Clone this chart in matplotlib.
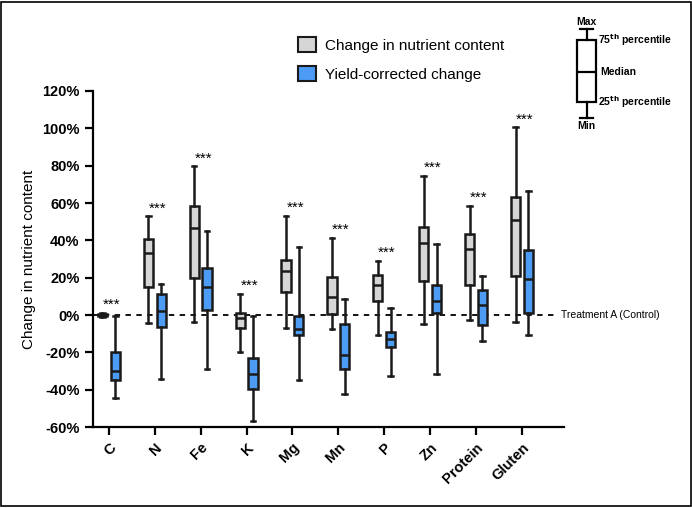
import numpy as np
import matplotlib.pyplot as plt
from matplotlib.patches import Patch, Rectangle

plt.rcParams['font.family'] = ['Liberation Sans', 'DejaVu Sans']

categorias = ['C', 'N', 'Fe', 'K', 'Mg', 'Mn', 'P', 'Zn', 'Protein', 'Gluten']

# [min, q1, mediana, q3, max] en %
cambio = [
    [-1, -0.3, 0.3, 0.8, 1.2],
    [-4.1, 15.0, 33.2, 40.5, 52.9],
    [-3.9, 19.8, 46.8, 58.4, 79.6],
    [-19.5, -7.1, -1.4, 0.9, 11.2],
    [-6.8, 12.5, 23.4, 29.5, 53.2],
    [-7.3, 0.4, 9.8, 20.5, 41.4],
    [-10.4, 7.7, 16.2, 21.6, 28.9],
    [-4.5, 18.4, 38.6, 47.3, 74.6],
    [-2.7, 15.9, 35.2, 43.5, 58.5],
    [-3.7, 21.2, 50.7, 63.2, 100.5],
]
corregido = [
    [-44.6, -34.8, -30.0, -20.0, -0.4],
    [-34.3, -6.2, 2.3, 11.4, 16.4],
    [-28.7, 2.5, 15.0, 25.2, 45.0],
    [-56.6, -39.5, -31.6, -22.7, -0.4],
    [-34.5, -10.9, -7.3, -0.2, 36.3],
    [-42.1, -28.7, -21.3, -4.5, 8.7],
    [-32.7, -17.1, -12.7, -8.9, 3.9],
    [-31.6, 0.9, 7.7, 16.2, 38.2],
    [-13.9, -5.5, 5.4, 13.2, 21.2],
    [-10.5, 1.4, 19.6, 35.0, 66.2],
]

GRIS = '#D6D6D6'
AZUL = '#4C9BF4'
NEGRO = '#1a1a1a'


def stats(datos):
    return [dict(whislo=d[0], q1=d[1], med=d[2], q3=d[3], whishi=d[4], fliers=[]) for d in datos]


def dibujar(ax, datos, pos, color, ancho):
    ax.bxp(stats(datos), positions=pos, widths=ancho, patch_artist=True,
           showfliers=False, manage_ticks=False,
           boxprops=dict(facecolor=color, edgecolor=NEGRO, linewidth=1.8),
           medianprops=dict(color=NEGRO, linewidth=1.8),
           whiskerprops=dict(color=NEGRO, linewidth=1.8),
           capprops=dict(color=NEGRO, linewidth=1.8),
           capwidths=ancho * 0.5)


fig = plt.figure(figsize=(6.92, 5.08), dpi=100)
ax = fig.add_axes([0.134, 0.159, 0.681, 0.662])

x = np.arange(len(categorias))
dibujar(ax, cambio, x - 0.14, GRIS, 0.2)
dibujar(ax, corregido, x + 0.14, AZUL, 0.2)

for i, d in enumerate(cambio):
    ax.text(x[i] + 0.06, d[4] + 0.5, '***', ha='center', va='bottom', fontsize=11)

ax.axhline(0, xmin=0, xmax=0.987, color='black', linestyle=(0, (3, 3)), linewidth=1.3,
           zorder=0)
ax.text(0.994, 0, 'Treatment A (Control)', transform=ax.get_yaxis_transform(),
        va='center', ha='left', fontsize=7.5)

ax.set_xlim(-0.35, 9.915)
ax.set_ylim(-60, 120)
ax.set_yticks(np.arange(-60, 121, 20))
ax.set_yticklabels([f'{v}%' for v in range(-60, 121, 20)], fontweight='bold', fontsize=10.5)
ax.set_xticks(x)
ax.set_xticklabels(categorias, rotation=45, ha='right', rotation_mode='anchor',
                   fontweight='bold', fontsize=10.5)
ax.set_ylabel('Change in nutrient content', fontsize=11)
ax.tick_params(width=1.6, length=6)
for s in ['top', 'right']:
    ax.spines[s].set_visible(False)
for s in ['left', 'bottom']:
    ax.spines[s].set_linewidth(1.6)

handles = [Patch(facecolor=GRIS, edgecolor=NEGRO, linewidth=1.5, label='Change in nutrient content'),
           Patch(facecolor=AZUL, edgecolor=NEGRO, linewidth=1.5, label='Yield-corrected change')]
fig.legend(handles=handles, loc='upper left', bbox_to_anchor=(0.411, 0.955), frameon=False,
           fontsize=11, handlelength=1.2, handleheight=1.2, labelspacing=0.85, handletextpad=0.55)

# clave del diagrama de caja
axk = fig.add_axes([0.825, 0.75, 0.0458, 0.21])
axk.bxp([dict(whislo=0, q1=0.18, med=0.52, q3=0.88, whishi=1, fliers=[])], positions=[0],
        widths=0.6, showfliers=False, patch_artist=True,
        boxprops=dict(facecolor='white', edgecolor='black', linewidth=1.6),
        medianprops=dict(color='black', linewidth=1.6),
        whiskerprops=dict(color='black', linewidth=1.6),
        capprops=dict(color='black', linewidth=1.6), capwidths=0.42)
axk.set_xlim(-0.5, 0.5)
axk.set_ylim(-0.1, 1.1)
axk.axis('off')
fk = dict(fontsize=7.5, fontweight='bold')
axk.text(0, 1.03, 'Max', ha='center', va='bottom', **fk)
axk.text(0, -0.03, 'Min', ha='center', va='top', **fk)
axk.text(0.36, 0.88, r'75$^{\mathbf{th}}$ percentile', ha='left', va='center', **fk)
axk.text(0.43, 0.52, 'Median', ha='left', va='center', **fk)
axk.text(0.36, 0.18, r'25$^{\mathbf{th}}$ percentile', ha='left', va='center', **fk)

fig.patches.append(Rectangle((0.002, 0.003), 0.996, 0.994, transform=fig.transFigure,
                             fill=False, edgecolor='black', linewidth=1.2))

fig.savefig('out.png', dpi=100)
